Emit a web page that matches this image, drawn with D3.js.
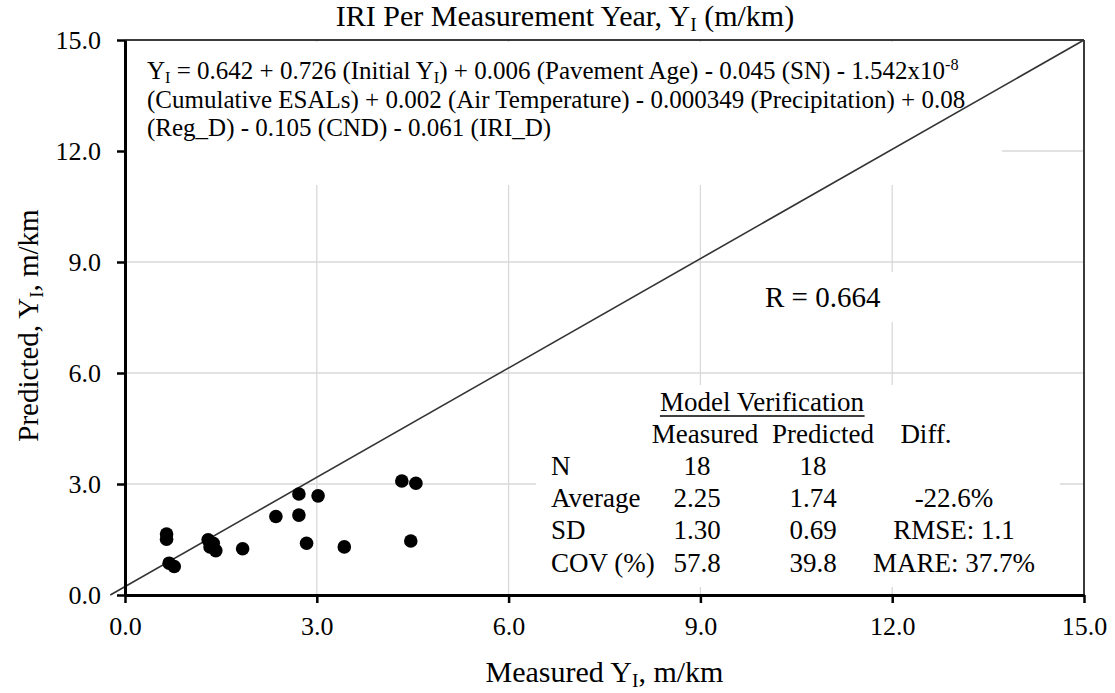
<!DOCTYPE html>
<html>
<head>
<meta charset="utf-8">
<script src="https://cdn.jsdelivr.net/npm/d3@7"></script>
<style>
  html, body { margin: 0; padding: 0; background: #fff; }
  svg text { font-family: "Liberation Serif", "Times New Roman", serif; fill: #000; }
</style>
</head>
<body>
<svg id="chart" width="1115" height="693"></svg>
<script>
// Measured vs. predicted IRI per measurement year (m/km)
const measured  = [0.65, 0.65, 0.69, 0.77, 1.30, 1.33, 1.38, 1.42, 1.84, 2.36, 2.72, 2.72, 2.84, 3.02, 3.43, 4.33, 4.55, 4.47];
const predicted = [1.65, 1.51, 0.86, 0.77, 1.49, 1.30, 1.40, 1.20, 1.25, 2.12, 2.73, 2.16, 1.40, 2.68, 1.30, 3.08, 3.02, 1.46];

// Reference line endpoints (measured, predicted)
const refLineX = [-0.23, 15];
const refLineY = [0, 15];

const xTicks = [0, 3, 6, 9, 12, 15];
const yTicks = [0, 3, 6, 9, 12, 15];
const gridValues = [3, 6, 9, 12];

// Verification statistics
const statLabels     = ["N", "Average", "SD", "COV (%)"];
const measuredStats  = ["18", "2.25", "1.30", "57.8"];
const predictedStats = ["18", "1.74", "0.69", "39.8"];
const diffStats      = ["", "-22.6%", "RMSE: 1.1", "MARE: 37.7%"];
const statHeaders    = ["Measured", "Predicted", "Diff."];

const rValue = "0.664";

const svg = d3.select("#chart");
const W = 1115, H = 693;
const m = { left: 125, right: 1084, top: 40, bottom: 595 };

svg.append("rect").attr("width", W).attr("height", H).attr("fill", "#fff");

const x = d3.scaleLinear().domain([0, 15]).range([m.left, m.right]);
const y = d3.scaleLinear().domain([0, 15]).range([m.bottom, m.top]);

// Gridlines
const grid = svg.append("g").attr("stroke", "#d9d9d9").attr("stroke-width", 1.3);
grid.selectAll("line.v").data(gridValues).join("line")
  .attr("x1", d => x(d)).attr("x2", d => x(d))
  .attr("y1", y(15)).attr("y2", y(0));
grid.selectAll("line.h").data(gridValues).join("line")
  .attr("x1", x(0)).attr("x2", x(15))
  .attr("y1", d => y(d)).attr("y2", d => y(d));

// White text boxes sitting over the grid
svg.append("rect").attr("x", x(0) + 2).attr("y", y(15) + 2)
  .attr("width", 1002 - x(0) - 2).attr("height", 185 - y(15) - 2).attr("fill", "#fff");
svg.append("rect").attr("x", 752).attr("y", 272).attr("width", 146).attr("height", 50).attr("fill", "#fff");
svg.append("rect").attr("x", 536).attr("y", 385).attr("width", 524).attr("height", 202).attr("fill", "#fff");

// Top and right frame
svg.append("line").attr("x1", x(0)).attr("x2", x(15)).attr("y1", y(15)).attr("y2", y(15))
  .attr("stroke", "#3a3a3a").attr("stroke-width", 2);
svg.append("line").attr("x1", x(15)).attr("x2", x(15)).attr("y1", y(15)).attr("y2", y(0))
  .attr("stroke", "#3a3a3a").attr("stroke-width", 2);

// Reference line
svg.append("line")
  .attr("x1", x(refLineX[0])).attr("y1", y(refLineY[0]))
  .attr("x2", x(refLineX[1])).attr("y2", y(refLineY[1]))
  .attr("stroke", "#333").attr("stroke-width", 1.6);

// Axes
const fmt = d3.format(".1f");
const xAxis = svg.append("g").attr("transform", `translate(0,${m.bottom})`)
  .call(d3.axisBottom(x).tickValues(xTicks).tickFormat(fmt).tickSize(8).tickSizeOuter(0).tickPadding(14));
const yAxis = svg.append("g").attr("transform", `translate(${m.left},0)`)
  .call(d3.axisLeft(y).tickValues(yTicks).tickFormat(fmt).tickSize(8).tickSizeOuter(0).tickPadding(16));
[xAxis, yAxis].forEach(a => {
  a.select(".domain").attr("stroke", "#000").attr("stroke-width", 3);
  a.selectAll(".tick line").attr("stroke", "#000").attr("stroke-width", 2.5);
  a.selectAll(".tick text").attr("font-size", 26).attr("font-family", "Liberation Serif").attr("fill", "#000");
});

// Points
svg.append("g").selectAll("circle")
  .data(measured.map((d, i) => [d, predicted[i]]))
  .join("circle")
  .attr("cx", d => x(d[0])).attr("cy", d => y(d[1]))
  .attr("r", 6.8).attr("fill", "#000");

// Helper: text with subscripts / superscripts. parts: [string, "sub"|"sup"|null]
function richText(sel, parts, size) {
  parts.forEach(([t, kind]) => {
    const ts = sel.append("tspan").text(t);
    if (kind === "sub") ts.attr("font-size", size * 0.65).attr("baseline-shift", "-25%");
    else if (kind === "sup") ts.attr("font-size", size * 0.65).attr("baseline-shift", "55%");
  });
  return sel;
}

// Title
richText(svg.append("text").attr("x", 565).attr("y", 26)
  .attr("text-anchor", "middle").attr("font-size", 30),
  [["IRI Per Measurement Year, Y"], ["I", "sub"], [" (m/km)"]], 30);

// Axis titles
richText(svg.append("text").attr("x", (m.left + m.right) / 2).attr("y", 682)
  .attr("text-anchor", "middle").attr("font-size", 30),
  [["Measured Y"], ["I", "sub"], [", m/km"]], 30);
richText(svg.append("text")
  .attr("transform", `translate(38,${(m.top + m.bottom) / 2 + 8}) rotate(-90)`)
  .attr("text-anchor", "middle").attr("font-size", 29),
  [["Predicted, Y"], ["I", "sub"], [", m/km"]], 29);

// Model equation
const eqSize = 25;
const eqLines = [
  [["Y"], ["I", "sub"], [" = 0.642 + 0.726 (Initial Y"], ["I", "sub"], [") + 0.006 (Pavement Age) - 0.045 (SN) - 1.542x10"], ["-8", "sup"]],
  [["(Cumulative ESALs) + 0.002 (Air Temperature) - 0.000349 (Precipitation) + 0.08"]],
  [["(Reg_D) - 0.105 (CND) - 0.061 (IRI_D)"]]
];
eqLines.forEach((parts, i) => {
  richText(svg.append("text").attr("x", 147).attr("y", 79 + i * 28.5).attr("font-size", eqSize), parts, eqSize);
});

// Correlation
svg.append("text").attr("x", 765).attr("y", 307).attr("font-size", 29).text("R = " + rValue);

// Verification table
const tSize = 27;
const title = svg.append("text").attr("x", 762).attr("y", 411).attr("text-anchor", "middle")
  .attr("font-size", tSize).text("Model Verification");
const tb = title.node().getBBox();
svg.append("line").attr("x1", tb.x).attr("x2", tb.x + tb.width)
  .attr("y1", 416).attr("y2", 416).attr("stroke", "#000").attr("stroke-width", 1.3);

const headerX = [705, 823, 926];
svg.append("g").attr("font-size", tSize).selectAll("text").data(statHeaders).join("text")
  .attr("x", (d, i) => headerX[i]).attr("y", 443).attr("text-anchor", "middle").text(d => d);

const rowY = [475, 507, 539, 572];
const rows = svg.append("g").attr("font-size", tSize);
rows.selectAll("text.lab").data(statLabels).join("text")
  .attr("x", 551).attr("y", (d, i) => rowY[i]).text(d => d);
rows.selectAll("text.mea").data(measuredStats).join("text")
  .attr("x", 697).attr("y", (d, i) => rowY[i]).attr("text-anchor", "middle").text(d => d);
rows.selectAll("text.pre").data(predictedStats).join("text")
  .attr("x", 813).attr("y", (d, i) => rowY[i]).attr("text-anchor", "middle").text(d => d);
rows.selectAll("text.dif").data(diffStats).join("text")
  .attr("x", 954).attr("y", (d, i) => rowY[i]).attr("text-anchor", "middle").text(d => d);
</script>
</body>
</html>
